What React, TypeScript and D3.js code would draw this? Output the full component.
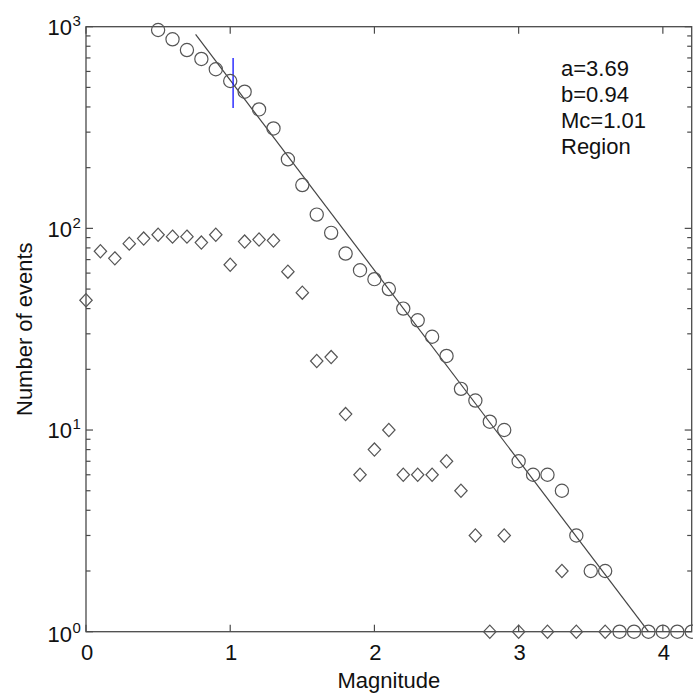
import React from "react";
import * as d3 from "d3";

// ---- data ----
const cumMag = [0.5, 0.6, 0.7, 0.8, 0.9, 1.0, 1.1, 1.2, 1.3, 1.4, 1.5, 1.6, 1.7, 1.8, 1.9, 2.0, 2.1, 2.2, 2.3, 2.4, 2.5, 2.6, 2.7, 2.8, 2.9, 3.0, 3.1, 3.2, 3.3, 3.4, 3.5, 3.6, 3.7, 3.8, 3.9, 4.0, 4.1, 4.2];
const cumN = [963, 866, 766, 692, 615, 538, 476, 389, 313, 220, 164, 117, 95, 75, 62, 56, 50, 40, 35, 29, 23.3, 16, 14, 11, 10, 7, 6, 6, 5, 3, 2, 2, 1, 1, 1, 1, 1, 1];

const binMag = [0.0, 0.1, 0.2, 0.3, 0.4, 0.5, 0.6, 0.7, 0.8, 0.9, 1.0, 1.1, 1.2, 1.3, 1.4, 1.5, 1.6, 1.7, 1.8, 1.9, 2.0, 2.1, 2.2, 2.3, 2.4, 2.5, 2.6, 2.7, 2.8, 2.9, 3.0, 3.2, 3.3, 3.4, 3.6];
const binN = [44, 77, 71, 84, 89, 93, 91, 91, 85, 93, 66, 86, 88, 87, 61, 48, 22, 23, 12, 6, 8, 10, 6, 6, 6, 7, 5, 3, 1, 3, 1, 1, 2, 1, 1];

const fitLineMag = [0.76, 3.9];
const fitLineN = [915, 1];

const mcMarkerMag = 1.02;
const mcMarkerN = [395, 700];

const xTicks = [0, 1, 2, 3, 4];
const yDecades = [0, 1, 2, 3];
const annotation = ["a=3.69", "b=0.94", "Mc=1.01", "Region"];

const W = 693;
const H = 694;
const left = 86;
const right = 691.7;
const top = 26.7;
const bottom = 631.7;

const FONT = "'Liberation Sans', Arial, sans-serif";
const AXIS = "#4a4a4a";
const MARK = "#555555";

export default function App() {
  const x = d3.scaleLinear().domain([0, 4.2]).range([left, right]);
  const y = d3.scaleLog().domain([1, 1000]).range([bottom, top]);

  const minorVals: number[] = [];
  for (let d = 0; d < 3; d++) {
    for (let k = 2; k <= 9; k++) minorVals.push(k * Math.pow(10, d));
  }

  const fitPath = d3
    .line<number>()
    .x((_, i) => x(fitLineMag[i]))
    .y((_, i) => y(fitLineN[i]))(fitLineMag);

  const majorLen = 7;
  const minorLen = 4.5;

  const diamond = (cx: number, cy: number) => {
    const hw = 6.2;
    const hh = 6.6;
    return `M${cx},${cy - hh}L${cx + hw},${cy}L${cx},${cy + hh}L${cx - hw},${cy}Z`;
  };

  return (
    <svg
      width={W}
      height={H}
      style={{ position: "absolute", left: 0, top: 0, background: "#fff" }}
      fontFamily={FONT}
    >
      <rect x={0} y={0} width={W} height={H} fill="#fff" />

      {/* ticks */}
      <g stroke={AXIS} strokeWidth={1.2}>
        {xTicks.map((t) => (
          <g key={"xt" + t}>
            <line x1={x(t)} x2={x(t)} y1={bottom} y2={bottom - majorLen} />
            <line x1={x(t)} x2={x(t)} y1={top} y2={top + majorLen} />
          </g>
        ))}
        {yDecades.map((d) => {
          const v = Math.pow(10, d);
          return (
            <g key={"yt" + d}>
              <line x1={left} x2={left + majorLen} y1={y(v)} y2={y(v)} />
              <line x1={right} x2={right - majorLen} y1={y(v)} y2={y(v)} />
            </g>
          );
        })}
        {minorVals.map((v) => (
          <g key={"ym" + v}>
            <line x1={left} x2={left + minorLen} y1={y(v)} y2={y(v)} />
            <line x1={right} x2={right - minorLen} y1={y(v)} y2={y(v)} />
          </g>
        ))}
      </g>

      {/* frame */}
      <rect
        x={left}
        y={top}
        width={right - left}
        height={bottom - top}
        fill="none"
        stroke={AXIS}
        strokeWidth={1.3}
      />

      {/* fit line */}
      <path d={fitPath || ""} fill="none" stroke="#444" strokeWidth={1.2} />

      {/* Mc marker */}
      <line
        x1={x(mcMarkerMag)}
        x2={x(mcMarkerMag)}
        y1={y(mcMarkerN[0])}
        y2={y(mcMarkerN[1])}
        stroke="#1010ff"
        strokeWidth={1.3}
      />

      {/* cumulative circles */}
      <g fill="none" stroke={MARK} strokeWidth={1.2}>
        {cumMag.map((m, i) => (
          <circle key={"c" + i} cx={x(m)} cy={y(cumN[i])} r={6.6} />
        ))}
      </g>

      {/* non-cumulative diamonds */}
      <g fill="none" stroke={MARK} strokeWidth={1.2}>
        {binMag.map((m, i) => (
          <path key={"d" + i} d={diamond(x(m), y(binN[i]))} />
        ))}
      </g>

      {/* x tick labels */}
      <g fontSize={22} fill="#111" textAnchor="middle">
        {xTicks.map((t) => (
          <text key={"xl" + t} x={x(t) + 1} y={660}>
            {t}
          </text>
        ))}
      </g>

      {/* y tick labels */}
      <g fill="#111">
        {yDecades.map((d) => {
          const yy = y(Math.pow(10, d)) + (d === 0 ? 10 : 8.3);
          return (
            <g key={"yl" + d}>
              <text x={72} y={yy} fontSize={22} textAnchor="end">
                10
              </text>
              <text x={72.5} y={yy - 9} fontSize={15}>
                {d}
              </text>
            </g>
          );
        })}
      </g>

      {/* axis labels */}
      <text x={(left + right) / 2} y={688} fontSize={22} textAnchor="middle" fill="#111">
        Magnitude
      </text>
      <text
        transform={`translate(32,${(top + bottom) / 2}) rotate(-90)`}
        fontSize={22}
        textAnchor="middle"
        fill="#111"
      >
        Number of events
      </text>

      {/* annotation */}
      <g fontSize={22} fill="#111">
        {annotation.map((s, i) => (
          <text key={"a" + i} x={561} y={76 + i * 26}>
            {s}
          </text>
        ))}
      </g>
    </svg>
  );
}
